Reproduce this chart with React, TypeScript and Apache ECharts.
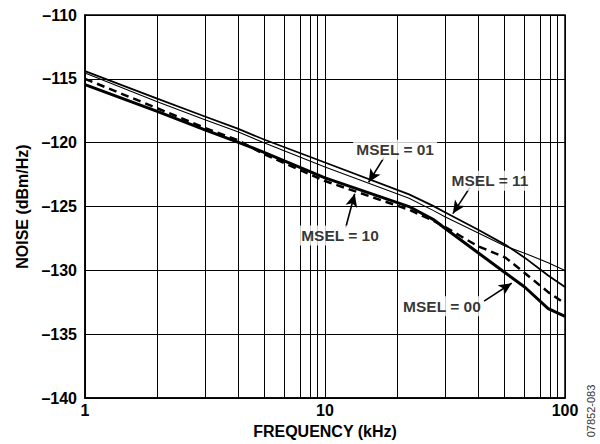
import React, { useEffect, useRef } from 'react';
import * as echarts from 'echarts';

// Frequencies (kHz) at which the curves were read
const FREQ = [1, 2.0, 3.16, 4.33, 5.57, 10, 22.4, 28.2, 31.6, 43.3, 56.5, 67.9, 85.1, 100];
// Noise (dBm/Hz) for each mode
const MSEL_01 = [-114.4, -116.55, -117.95, -118.9, -119.75, -121.55, -124.05, -124.95, -125.45, -126.8, -128.0, -129.0, -130.4, -131.3];
const MSEL_11 = [-114.55, -116.8, -118.2, -119.15, -120.0, -121.9, -124.35, -125.3, -125.8, -127.05, -128.1, -128.65, -129.4, -130.0];
const MSEL_10 = [-115.0, -117.3, -118.85, -119.8, -120.9, -123.0, -125.25, -126.1, -126.6, -128.1, -129.0, -130.2, -131.7, -132.6];
const MSEL_00 = [-115.45, -117.55, -119.0, -119.95, -120.75, -122.75, -125.0, -126.0, -126.7, -128.6, -130.2, -131.3, -133.0, -133.6];

// Axis tick labels
const X_TICK_LABELS = ['1', '10', '100'];
const Y_TICKS = [-140, -135, -130, -125, -120, -115, -110];
const Y_TICK_LABELS = ['–140', '–135', '–130', '–125', '–120', '–115', '–110'];

// Minor vertical grid lines as drawn in the reference
const MINOR_GRID_FREQ = [2.0, 3.16, 4.33, 5.57, 6.79, 7.89, 8.69, 9.31, 20.0, 31.6, 43.3, 55.7, 67.9, 78.9, 86.9, 93.1];

// Annotations: label text, label position [f, dB], arrow start, arrow tip
const ANNOT_TEXT = ['MSEL = 01', 'MSEL = 11', 'MSEL = 10', 'MSEL = 00'];
const ANNOT_LABEL = [[19.6, -120.55], [48.7, -122.97], [11.55, -127.27], [30.7, -132.8]];
const ARROW_FROM = [[17.6, -121.17], [40.2, -123.5], [12.2, -126.64], [46.0, -132.4]];
const ARROW_TO = [[15.2, -123.1], [34.1, -125.55], [13.3, -124.0], [60.0, -131.0]];

const FONT = 'Arial, "Liberation Sans", Helvetica, sans-serif';

export default function App() {
  const ref = useRef<HTMLDivElement>(null);
  useEffect(() => {
    document.body.style.margin = '0';
    const chart = echarts.init(ref.current as HTMLDivElement, null, { renderer: 'svg' });
    const pair = (ys: number[]) => FREQ.map((f, i) => [f, ys[i]]);
    const lineSeries = (name: string, ys: number[], width: number, type: any = 'solid') => ({
      name,
      type: 'line',
      data: pair(ys),
      symbol: 'none',
      showSymbol: false,
      z: 3,
      lineStyle: { color: '#000', width, type, cap: 'butt' },
      itemStyle: { color: '#000' },
    });
    chart.setOption({
      animation: false,
      backgroundColor: '#fff',
      grid: { left: 85, right: 35, top: 15, bottom: 45, show: true, borderColor: '#000', borderWidth: 1.5, backgroundColor: 'transparent' },
      xAxis: {
        type: 'log',
        logBase: 10,
        min: 1,
        max: 100,
        name: 'FREQUENCY (kHz)',
        nameLocation: 'middle',
        nameGap: 24,
        nameTextStyle: { color: '#000', fontWeight: 'bold', fontSize: 16, fontFamily: FONT },
        axisLine: { show: true, lineStyle: { color: '#000', width: 1.5 } },
        axisTick: { show: false },
        minorTick: { show: false },
        minorSplitLine: { show: false },
        splitLine: { show: true, lineStyle: { color: '#000', width: 1 } },
        axisLabel: {
          color: '#000',
          fontWeight: 'bold',
          fontSize: 16,
          fontFamily: FONT,
          margin: 4,
          formatter: (v: number) => X_TICK_LABELS[Math.round(Math.log10(v))],
        },
      },
      yAxis: {
        type: 'value',
        min: -140,
        max: -110,
        interval: 5,
        name: 'NOISE (dBm/Hz)',
        nameLocation: 'middle',
        nameGap: 54,
        nameTextStyle: { color: '#000', fontWeight: 'bold', fontSize: 16, fontFamily: FONT },
        axisLine: { show: true, lineStyle: { color: '#000', width: 1.5 } },
        axisTick: { show: false },
        splitLine: { show: true, lineStyle: { color: '#000', width: 1 } },
        axisLabel: {
          color: '#000',
          fontWeight: 'bold',
          fontSize: 16,
          fontFamily: FONT,
          margin: 8,
          formatter: (v: number) => Y_TICK_LABELS[Y_TICKS.indexOf(v)] ?? String(v),
        },
      },
      series: [
        {
          name: 'grid',
          type: 'line',
          data: [],
          z: 1,
          silent: true,
          markLine: {
            silent: true,
            symbol: ['none', 'none'],
            label: { show: false },
            lineStyle: { color: '#000', width: 1, type: 'solid' },
            data: MINOR_GRID_FREQ.map((f) => ({ xAxis: f })),
          },
        },
        lineSeries('MSEL = 01', MSEL_01, 1.8),
        lineSeries('MSEL = 11', MSEL_11, 1.1),
        lineSeries('MSEL = 10', MSEL_10, 2.5, [8, 5]),
        lineSeries('MSEL = 00', MSEL_00, 3),
        {
          name: 'arrows',
          type: 'line',
          data: [],
          z: 8,
          silent: true,
          markLine: {
            silent: true,
            symbol: ['none', 'arrow'],
            symbolSize: [9, 13],
            label: { show: false },
            lineStyle: { color: '#000', width: 1.6, type: 'solid' },
            itemStyle: { color: '#000' },
            data: ARROW_FROM.map((s, i) => [{ coord: s }, { coord: ARROW_TO[i] }]),
          },
        },
        {
          name: 'labels',
          type: 'scatter',
          z: 10,
          silent: true,
          symbol: 'rect',
          symbolSize: 1,
          itemStyle: { color: 'rgba(0,0,0,0)' },
          data: ANNOT_LABEL.map((p, i) => ({ value: [p[0], p[1]], name: ANNOT_TEXT[i] })),
          label: {
            show: true,
            position: 'inside',
            formatter: (p: any) => p.name,
            color: '#000',
            fontWeight: 'bold',
            fontSize: 15.5,
            fontFamily: FONT,
            backgroundColor: '#fff',
            padding: [2, 3],
          },
        },
      ],
      graphic: [
        {
          type: 'text',
          x: 591,
          y: 411,
          rotation: Math.PI / 2,
          style: {
            text: '07852-083',
            fill: '#333',
            font: `11px ${FONT}`,
            textAlign: 'center',
            textVerticalAlign: 'middle',
          },
        },
      ],
    });
    return () => chart.dispose();
  }, []);
  return <div ref={ref} style={{ width: 600, height: 444 }} />;
}
